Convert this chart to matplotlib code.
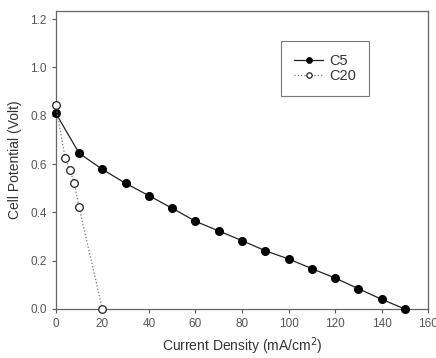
import matplotlib
matplotlib.use('Agg')
from matplotlib import pyplot as plt

# data
c5_x = [0, 10, 20, 30, 40, 50, 60, 70, 80, 90, 100, 110, 120, 130, 140, 150]
c5_y = [0.81, 0.645, 0.578, 0.52, 0.469, 0.417, 0.363, 0.323, 0.283, 0.241,
        0.207, 0.167, 0.128, 0.084, 0.040, 0.0]
c20_x = [0, 4, 6, 8, 10, 20]
c20_y = [0.845, 0.625, 0.575, 0.52, 0.42, 0.0]

x_ticks = [0, 20, 40, 60, 80, 100, 120, 140, 160]
y_ticks = [0.0, 0.2, 0.4, 0.6, 0.8, 1.0, 1.2]

plt.rcParams['font.family'] = ['Liberation Sans', 'DejaVu Sans']
txt = '#333333'

fig = plt.figure(figsize=(4.36, 3.58), dpi=100)
ax = fig.add_axes([0.128, 0.137, 0.854, 0.832])

ax.plot(c5_x, c5_y, '-', color='#222222', lw=0.9, marker='o', ms=5.5,
        mfc='black', mec='black', label='C5', zorder=3, clip_on=False)
ax.plot(c20_x, c20_y, ':', color='#777777', lw=0.9, marker='o', ms=5.5,
        mfc='white', mec='#222222', mew=0.9, label='C20', zorder=4, clip_on=False)

ax.set_xlim(0, 160)
ax.set_ylim(0, 1.233)
ax.set_xticks(x_ticks)
ax.set_yticks(y_ticks)
ax.set_yticklabels([f'{v:.1f}' for v in y_ticks])
ax.tick_params(direction='out', length=3, width=0.8, color='#555555',
               labelsize=8.5, labelcolor='#555555', top=False, right=False)
for s in ax.spines.values():
    s.set_color('#666666')
    s.set_linewidth(0.9)

ax.set_xlabel('Current Density (mA/cm$^2$)', fontsize=10, color=txt, labelpad=4)
ax.set_ylabel('Cell Potential (Volt)', fontsize=10, color=txt, labelpad=6)

leg = ax.legend(loc='upper left', bbox_to_anchor=(0.605, 0.90), borderaxespad=0,
                fontsize=10.5, frameon=True, fancybox=False, edgecolor='#555555',
                handlelength=2.0, handletextpad=0.4, borderpad=0.9,
                labelspacing=0.05, markerscale=0.7)
leg.get_frame().set_linewidth(0.8)
for t in leg.get_texts():
    t.set_color(txt)

fig.savefig('out.png', dpi=100)
